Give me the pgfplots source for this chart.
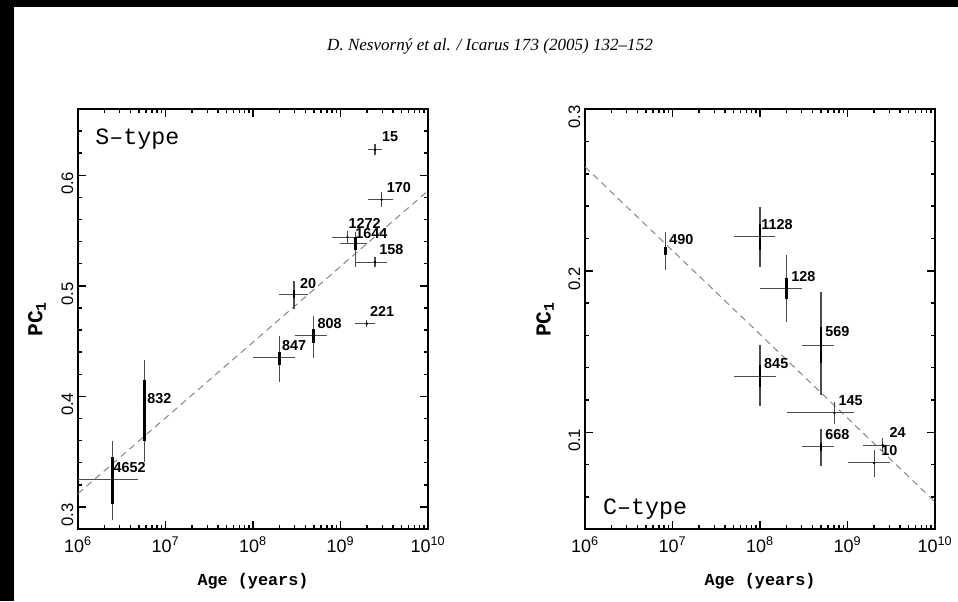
\documentclass[border=0pt]{standalone}
\usepackage{fontspec}
\setmainfont{Liberation Sans}
\setmonofont{Liberation Mono}
\newfontfamily\headfont{Liberation Serif}
\usepackage{pgfplots}
\pgfplotsset{compat=1.18}

% S-type: x y xplus xminus yplus yminus
\pgfplotstableread{
x      y      xp     xm     yp     ym
2.48e9 0.623  4.7e8  4.4e8  0.005  0.005
2.96e9 0.578  1.02e9 9.2e8  0.007  0.007
1.2e9  0.544  3.2e8  4.1e8  0.006  0.006
1.5e9  0.538  5.0e8  5.1e8  0.0107 0.021
2.48e9 0.5215 8.9e8  9.8e8  0.0045 0.0045
2.94e8 0.4923 1.33e8 9.4e7  0.0117 0.0133
2.0e9  0.4658 4.8e8  5.3e8  0.003  0.003
4.89e8 0.4552 2.03e8 1.87e8 0.0178 0.0202
2.0e8  0.435  1.02e8 1.0e8  0.020  0.022
5.7e6  0.388  0      0      0.045  0.047
2.47e6 0.3246 2.43e6 1.47e6 0.0354 0.0366
}\stype
\pgfplotstableread{
x      y      yp     ym
1.5e9  0.538  0.006  0.006
2.94e8 0.4923 0.0035 0.0035
4.89e8 0.4552 0.0058 0.0072
2.0e8  0.435  0.005  0.007
5.7e6  0.388  0.0265 0.028
2.47e6 0.3246 0.0204 0.0216
}\stypethick
% C-type
\pgfplotstableread{
x      y      xp     xm     yp     ym
8.35e6 0.2128 0      0      0.011  0.0124
1.0e8  0.221  4.8e7  4.9e7  0.0186 0.0185
2.02e8 0.1891 9.8e7  1.02e8 0.0206 0.0207
4.98e8 0.154  1.94e8 1.98e8 0.033  0.031
1.0e8  0.1348 5.1e7  4.9e7  0.0192 0.0186
7.08e8 0.1121 4.92e8 5.06e8 0.0068 0.007
4.98e8 0.091  1.94e8 1.98e8 0.0114 0.0119
2.52e9 0.0921 5.4e8  1.01e9 0.0045 0.0045
2.01e9 0.0811 1.05e9 9.9e8  0.0083 0.0087
}\ctype
\pgfplotstableread{
x      y      yp     ym
8.35e6 0.2128 0.0021 0.0031
1.0e8  0.221  0.008  0.0082
2.02e8 0.1891 0.0062 0.0068
4.98e8 0.154  0.0113 0.0113
1.0e8  0.1348 0.0068 0.007
4.98e8 0.091  0.0025 0.0025
}\ctypethick

\pgfplotsset{
  pcaxis/.style={
    xmin=1e6, xmax=1e10,
    scale only axis, width=262.5pt, height=315pt,
    anchor=south west,
    axis line style={line width=1.3pt},
    tick align=inside,
    major tick length=6pt, minor tick length=3pt,
    every tick/.style={black, line width=1.1pt},
    xtick={1e6,1e7,1e8,1e9,1e10},
    xticklabels={10\textsuperscript{6},10\textsuperscript{7},10\textsuperscript{8},10\textsuperscript{9},10\textsuperscript{10}},
    xticklabel style={font=\fontsize{13.5}{15}\selectfont, yshift=-2pt},
    yticklabel style={font=\fontsize{12.5}{14}\selectfont, rotate=90, anchor=south, xshift=-6pt, /pgf/number format/fixed, /pgf/number format/assume math mode=true},
    xlabel={Age (years)},
    ylabel={PC\textsubscript{1}},
    every axis x label/.style={at={(axis description cs:0.5,-0.124)}, anchor=center, font=\ttfamily\bfseries\fontsize{12.6}{14}\selectfont},
    every axis y label/.style={at={(axis description cs:-0.117,0.5)}, anchor=center, rotate=90, font=\ttfamily\bfseries\fontsize{16}{18}\selectfont},
  },
  thinbar/.style={only marks, mark=*, mark size=0.7pt, black,
    error bars/.cd, x dir=both, y dir=both, x explicit, y explicit,
    error mark=none, error bar style={line width=0.8pt, black!70}},
  thickbar/.style={only marks, mark=*, mark size=0pt, black,
    error bars/.cd, y dir=both, y explicit,
    error mark=none, error bar style={line width=2.2pt, black}},
  fitline/.style={gray, line width=0.7pt, dash pattern=on 5pt off 3.5pt},
}
\tikzset{lbl/.style={anchor=west, inner sep=0pt, font=\bfseries\fontsize{10.8}{12}\selectfont}}

\begin{document}
\begin{tikzpicture}
\path[use as bounding box] (0,0) rectangle (718.5pt,450.75pt);
\fill[white] (0,0) rectangle (718.5pt,450.75pt);
\fill[black] (0,445.5pt) rectangle (718.5pt,450.75pt);
\fill[black] (0,0) rectangle (10.5pt,450.75pt);
\node[font=\headfont\itshape\fontsize{12.8}{14}\selectfont] at (367.5pt,416pt)
  {D. Nesvorný et al. / Icarus 173 (2005) 132–152};

\begin{semilogxaxis}[pcaxis, at={(58.5pt,54pt)},
  ymin=0.28, ymax=0.66, ytick={0.3,0.4,0.5,0.6},
  minor ytick={0.28,0.30,...,0.66}]
\addplot[fitline] coordinates {(1e6,0.312) (1e10,0.586)};
\addplot[thinbar] table[x=x, y=y, x error plus=xp, x error minus=xm, y error plus=yp, y error minus=ym] {\stype};
\addplot[thickbar] table[x=x, y=y, y error plus=yp, y error minus=ym] {\stypethick};
\node[anchor=base west, inner sep=0pt, font=\ttfamily\fontsize{17.5}{20}\selectfont] at (axis description cs:0.049,0.916) {S–type};
\node[lbl] at (axis cs:2.96e9,0.6347) {15};
\node[lbl] at (axis cs:3.37e9,0.5889) {170};
\node[lbl] at (axis cs:1.23e9,0.5563) {1272};
\node[lbl] at (axis cs:1.47e9,0.5472) {1644};
\node[lbl] at (axis cs:2.77e9,0.5328) {158};
\node[lbl] at (axis cs:3.44e8,0.5025) {20};
\node[lbl] at (axis cs:2.17e9,0.4769) {221};
\node[lbl] at (axis cs:5.43e8,0.4658) {808};
\node[lbl] at (axis cs:2.13e8,0.4462) {847};
\node[lbl] at (axis cs:6.17e6,0.398) {832};
\node[lbl] at (axis cs:2.54e6,0.336) {4652};
\end{semilogxaxis}

\begin{semilogxaxis}[pcaxis, at={(438.75pt,53.775pt)},
  ymin=0.04, ymax=0.3, ytick={0.1,0.2,0.3},
  minor ytick={0.04,0.06,...,0.3},
  every axis y label/.append style={at={(axis description cs:-0.114,0.5)}}]
\addplot[fitline] coordinates {(1e6,0.2644) (1e10,0.057)};
\addplot[thinbar] table[x=x, y=y, x error plus=xp, x error minus=xm, y error plus=yp, y error minus=ym] {\ctype};
\addplot[thickbar] table[x=x, y=y, y error plus=yp, y error minus=ym] {\ctypethick};
\node[anchor=base west, inner sep=0pt, font=\ttfamily\fontsize{17.5}{20}\selectfont] at (axis description cs:0.051,0.036) {C–type};
\node[lbl] at (axis cs:9.12e6,0.2196) {490};
\node[lbl] at (axis cs:1.03e8,0.2287) {1128};
\node[lbl] at (axis cs:2.26e8,0.1963) {128};
\node[lbl] at (axis cs:5.53e8,0.1622) {569};
\node[lbl] at (axis cs:1.11e8,0.1427) {845};
\node[lbl] at (axis cs:7.85e8,0.1195) {145};
\node[lbl] at (axis cs:5.53e8,0.0988) {668};
\node[lbl] at (axis cs:3.0e9,0.0997) {24};
\node[lbl] at (axis cs:2.42e9,0.0889) {10};
\end{semilogxaxis}
\end{tikzpicture}
\end{document}
